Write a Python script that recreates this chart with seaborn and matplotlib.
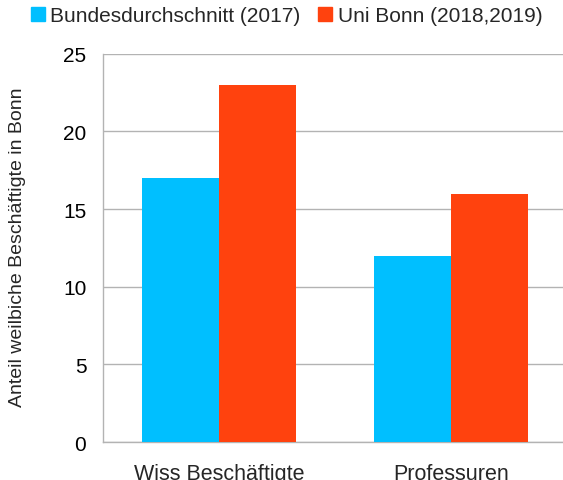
import matplotlib
matplotlib.use("Agg")
import matplotlib.pyplot as plt
import seaborn as sns
import pandas as pd
from matplotlib.lines import Line2D

categories = ["Wiss Beschäftigte", "Professuren"]
series = ["Bundesdurchschnitt (2017)", "Uni Bonn (2018,2019)"]
bund_values = [17, 12]
bonn_values = [23, 16]
colors = ["#00bfff", "#ff420e"]

df = pd.DataFrame({
    "Kategorie": categories * 2,
    "Serie": [series[0]] * 2 + [series[1]] * 2,
    "Wert": bund_values + bonn_values,
})

sns.set_style("white")
plt.rcParams["font.family"] = ["Liberation Sans", "DejaVu Sans"]

fig = plt.figure(figsize=(5.63, 4.81), dpi=100)
ax = fig.add_axes([0.183, 0.079, 0.824, 0.807])

sns.barplot(data=df, x="Kategorie", y="Wert", hue="Serie", palette=colors,
            width=2/3, gap=0, saturation=1, linewidth=0, ax=ax,
            legend=False, zorder=3)

grid_c = "#b3b3b3"
ax.set_xlim(-0.5, 1.5)
ax.set_ylim(0, 25)
ax.set_yticks([0, 5, 10, 15, 20, 25])
ax.yaxis.grid(True, color=grid_c, linewidth=1, zorder=0)
ax.set_axisbelow(True)
for s in ["top", "right"]:
    ax.spines[s].set_visible(False)
for s in ["left", "bottom"]:
    ax.spines[s].set_color(grid_c)
    ax.spines[s].set_linewidth(1)

ax.tick_params(axis="y", length=9, color=grid_c, labelsize=15, labelcolor="black", pad=3)
ax.tick_params(axis="x", which="major", length=0, labelsize=15.5, pad=15)
ax.set_xticks([-0.5, 0.5, 1.5], minor=True)
ax.tick_params(axis="x", which="minor", length=12, color=grid_c, width=1)

ax.set_xlabel("")
ax.set_ylabel("Anteil weilbiche Beschäftigte in Bonn", fontsize=14)
ax.yaxis.set_label_coords(-0.166, 0.504)

handles = [Line2D([0], [0], marker="s", linestyle="", markersize=9.5,
                  markerfacecolor=c, markeredgecolor=c) for c in colors]
fig.legend(handles, series, loc="center", bbox_to_anchor=(0.508, 0.966), ncol=2,
           frameon=False, fontsize=15, handletextpad=0.2, columnspacing=0.8,
           handlelength=0.8)

fig.savefig("out.png", dpi=100)
